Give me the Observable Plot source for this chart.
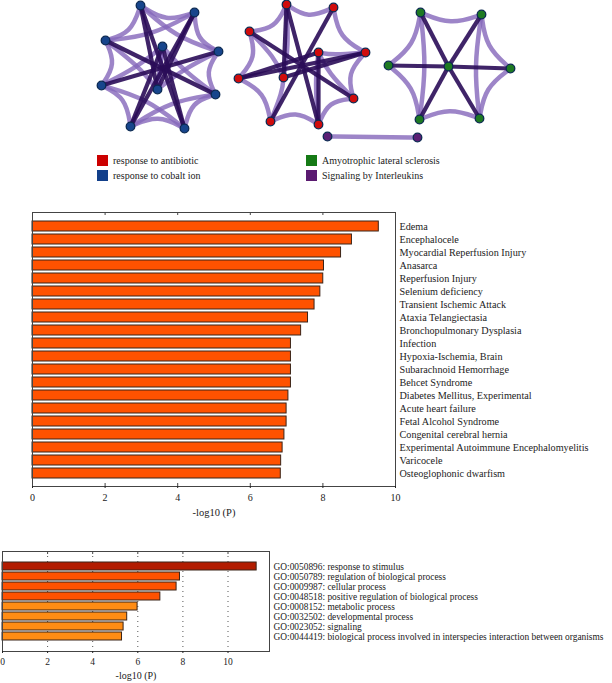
<!DOCTYPE html>
<html>
<head>
<meta charset="utf-8">
<script src="https://cdn.jsdelivr.net/npm/d3@7"></script>
<script src="https://cdn.jsdelivr.net/npm/@observablehq/plot@0.6"></script>
<style>
  body { margin: 0; background: #fff; font-family: "Liberation Serif", "Times New Roman", "DejaVu Serif", serif; }
  #wrap { position: relative; width: 612px; height: 683px; overflow: hidden; }
  .part { position: absolute; left: 0; }
  #legend { position: absolute; top: 155px; left: 97px; display: grid;
            grid-template-columns: 209px 200px; row-gap: 4px; font-size: 10px; color: #222; }
  .item { display: flex; align-items: center; height: 11px; }
  .sw { width: 11px; height: 11px; margin-right: 5px; flex: none; }
  svg text { font-family: "Liberation Serif", "Times New Roman", "DejaVu Serif", serif; }
</style>
</head>
<body>
<div id="wrap">
  <div id="net" class="part" style="top:0"></div>
  <div id="legend"></div>
  <div id="mid" class="part" style="top:190px"></div>
  <div id="bot" class="part" style="top:530px"></div>
</div>
<script>
// ---------- Network data (layout positions of nodes) ----------
const nodeIds = ["b0","b1","b2","b3","b4","b5","b6","b7","b8","b9",
                 "r0","r1","r2","r3","r4","r5","r6","r7","r8","r9",
                 "g0","g1","g2","g3","g4","g5","g6",
                 "p0","p1"];
const nodeX = [140,194,218,215,184,130,101,105,162,157,
               286,333,249,318,365,238,283,353,270,318,
               420,481,388,448,510,419,479,
               327,417];
const nodeY = [5,12,51,94,128,126,85,40,46,89,
               4,7,31,52,52,78,77,98,121,124,
               12,14,65,66,68,119,118,
               136,137];
const nodeGroup = ["cobalt","cobalt","cobalt","cobalt","cobalt","cobalt","cobalt","cobalt","cobalt","cobalt",
                   "antibiotic","antibiotic","antibiotic","antibiotic","antibiotic","antibiotic","antibiotic","antibiotic","antibiotic","antibiotic",
                   "als","als","als","als","als","als","als",
                   "interleukins","interleukins"];
const lightEdges = [
  ["b0","b1"],["b1","b2"],["b2","b3"],["b3","b4"],["b4","b5"],["b5","b6"],["b6","b7"],["b7","b0"],
  ["b8","b9"],["b9","b8"],["b7","b9"],["b2","b9"],["b6","b8"],["b3","b8"],["b0","b2"],["b5","b3"],["b1","b7"],["b4","b6"],
  ["r0","r1"],["r1","r4"],["r4","r7"],["r7","r9"],["r9","r8"],["r8","r5"],["r5","r2"],["r2","r0"],
  ["r3","r4"],["r3","r7"],["r6","r8"],["r6","r2"],["r0","r6"],["r3","r9"],
  ["g0","g1"],["g1","g4"],["g4","g6"],["g6","g5"],["g5","g2"],["g2","g0"],["g0","g5"],["g1","g6"],
  ["p0","p1"]
];
const darkEdges = [
  ["b0","b4"],["b1","b5"],["b7","b3"],["b6","b2"],["b8","b5"],["b8","b4"],["b9","b0"],["b9","b1"],
  ["r0","r9"],["r1","r8"],["r2","r7"],["r5","r4"],["r3","r5"],["r6","r4"],["r6","r0"],["r3","r9"],
  ["g3","g0"],["g3","g1"],["g3","g2"],["g3","g4"],["g3","g5"],["g3","g6"]
];
const legendNames = ["response to antibiotic","Amyotrophic lateral sclerosis","response to cobalt ion","Signaling by Interleukins"];
const legendKeys = ["antibiotic","als","cobalt","interleukins"];
const groupColors = {antibiotic:"#d00c0c", cobalt:"#17458c", als:"#1e7a22", interleukins:"#5b1f74"};
const legendColors = {antibiotic:"#cc0000", cobalt:"#123f8a", als:"#157a15", interleukins:"#5a1a70"};

// ---------- Disease enrichment ----------
const diseases = ["Edema","Encephalocele","Myocardial Reperfusion Injury","Anasarca","Reperfusion Injury",
  "Selenium deficiency","Transient Ischemic Attack","Ataxia Telangiectasia","Bronchopulmonary Dysplasia",
  "Infection","Hypoxia-Ischemia, Brain","Subarachnoid Hemorrhage","Behcet Syndrome",
  "Diabetes Mellitus, Experimental","Acute heart failure","Fetal Alcohol Syndrome",
  "Congenital cerebral hernia","Experimental Autoimmune Encephalomyelitis","Varicocele","Osteoglophonic dwarfism"];
const diseaseValues = [9.54,8.80,8.50,8.03,8.01,7.93,7.77,7.59,7.40,7.12,7.12,7.12,7.12,7.05,7.00,7.00,6.94,6.89,6.85,6.84];
const xTicks = [0,2,4,6,8,10];

// ---------- GO enrichment ----------
const goTerms = ["GO:0050896: response to stimulus","GO:0050789: regulation of biological process",
  "GO:0009987: cellular process","GO:0048518: positive regulation of biological process",
  "GO:0008152: metabolic process","GO:0032502: developmental process","GO:0023052: signaling",
  "GO:0044419: biological process involved in interspecies interaction between organisms"];
const goValues = [11.27,7.87,7.72,7.00,5.99,5.53,5.37,5.30];
const goColors = ["#b21c00","#ff5200","#ff5200","#ff5200","#ff8c14","#ff8c14","#ff8c14","#ff8c14"];

const axisLabel = "-log10 (P)";
const FONT = "'Liberation Serif', 'Times New Roman', 'DejaVu Serif', serif";

// ---------- Build network ----------
const nodes = nodeIds.map((id,i) => ({id, x:nodeX[i], y:nodeY[i], group:nodeGroup[i]}));
const byId = Object.fromEntries(nodes.map(n => [n.id, n]));
const centers = {};
for (const g of new Set(nodeGroup)) {
  const ns = nodes.filter(n => n.group === g);
  centers[g] = {x: d3.mean(ns, n=>n.x), y: d3.mean(ns, n=>n.y)};
}
const lightPaths = [];
lightEdges.forEach(([a,b], k) => {
  const A = byId[a], B = byId[b], c = centers[A.group];
  const mx = (A.x+B.x)/2, my = (A.y+B.y)/2;
  const f = 0.22;
  lightPaths.push({id:k, x:A.x, y:A.y});
  lightPaths.push({id:k, x:mx + (c.x-mx)*f, y:my + (c.y-my)*f});
  lightPaths.push({id:k, x:B.x, y:B.y});
});
const darkLinks = darkEdges.map(([a,b]) => ({a:byId[a], b:byId[b]}));

const net = Plot.plot({
  width: 612, height: 145, margin: 0,
  x: {domain:[0,612], range:[0,612], axis:null},
  y: {domain:[0,145], range:[0,145], axis:null},
  style: {background:"transparent"},
  marks: [
    Plot.line(lightPaths, {x:"x", y:"y", z:"id", curve:"basis", stroke:"#8467ba", strokeOpacity:0.8, strokeWidth:4.5}),
    Plot.link(darkLinks, {x1:d=>d.a.x, y1:d=>d.a.y, x2:d=>d.b.x, y2:d=>d.b.y, stroke:"#2a0c58", strokeOpacity:0.9, strokeWidth:4.2}),
    Plot.dot(nodes, {x:"x", y:"y", r:4.3, fill:d=>groupColors[d.group], stroke:"#0c2a52", strokeWidth:1.3})
  ]
});
document.getElementById("net").appendChild(net);

const legend = document.getElementById("legend");
legendNames.forEach((name,i) => {
  const it = document.createElement("div"); it.className = "item";
  const sw = document.createElement("span"); sw.className = "sw"; sw.style.background = legendColors[legendKeys[i]];
  const tx = document.createElement("span"); tx.textContent = name;
  it.appendChild(sw); it.appendChild(tx); legend.appendChild(it);
});

// ---------- Middle chart ----------
const diseaseRows = diseases.map((d,i) => ({name:d, value:diseaseValues[i]}));
const mid = Plot.plot({
  width: 612, height: 340,
  marginTop: 22, marginBottom: 44, marginLeft: 32, marginRight: 217,
  style: {fontFamily: FONT, fontSize: "10px", color:"#222", background:"transparent"},
  x: {domain:[0,10], ticks: xTicks},
  y: {type:"band", domain: diseases, paddingInner:0.24, paddingOuter:0.56, axis:null},
  marks: [
    Plot.barX(diseaseRows, {x:"value", y:"name", fill:"#ff5200", stroke:"#3b2418", strokeWidth:1}),
    Plot.tickX(xTicks, {x:d=>d, insetBottom:271, stroke:"#444"}),
    Plot.tickX(xTicks, {x:d=>d, insetTop:271, stroke:"#444"}),
    Plot.frame({stroke:"#444"}),
    Plot.axisX({ticks: xTicks, tickSize: 2, tickPadding: 5, label: null, fontSize: 10}),
    Plot.text(diseases, {y:d=>d, frameAnchor:"right", textAnchor:"start", dx:4, fontSize:10.2, fill:"#222"}),
    Plot.text([axisLabel], {frameAnchor:"bottom", dy:29, fontSize:10.5, fill:"#222"})
  ]
});
document.getElementById("mid").appendChild(mid);

// ---------- Bottom chart ----------
const goRows = goTerms.map((t,i) => ({name:t, value:goValues[i], color:goColors[i]}));
const goGrid = [2,4,6,8,10];
const bot = Plot.plot({
  width: 612, height: 153,
  marginTop: 21, marginBottom: 32, marginLeft: 2, marginRight: 343,
  style: {fontFamily: FONT, fontSize: "9.5px", color:"#222", background:"transparent"},
  x: {domain:[0,11.84], ticks: xTicks},
  y: {type:"band", domain: goTerms, paddingInner:0.24, paddingOuter:0.7, axis:null},
  marks: [
    Plot.ruleX(goGrid, {x:d=>d, stroke:"#555", strokeDasharray:"1,4"}),
    Plot.barX(goRows, {x:"value", y:"name", fill:"color", stroke:"#3b2418", strokeWidth:1}),
    Plot.tickX(goGrid, {x:d=>d, insetBottom:97, stroke:"#444"}),
    Plot.frame({stroke:"#444"}),
    Plot.axisX({ticks: xTicks, tickSize: 2, tickPadding: 5, label: null, fontSize: 9.5}),
    Plot.text(goTerms, {y:d=>d, frameAnchor:"right", textAnchor:"start", dx:4, fontSize:9.4, fill:"#222"}),
    Plot.text([axisLabel], {frameAnchor:"bottom", dy:27, fontSize:10, fill:"#222"})
  ]
});
document.getElementById("bot").appendChild(bot);
</script>
</body>
</html>
